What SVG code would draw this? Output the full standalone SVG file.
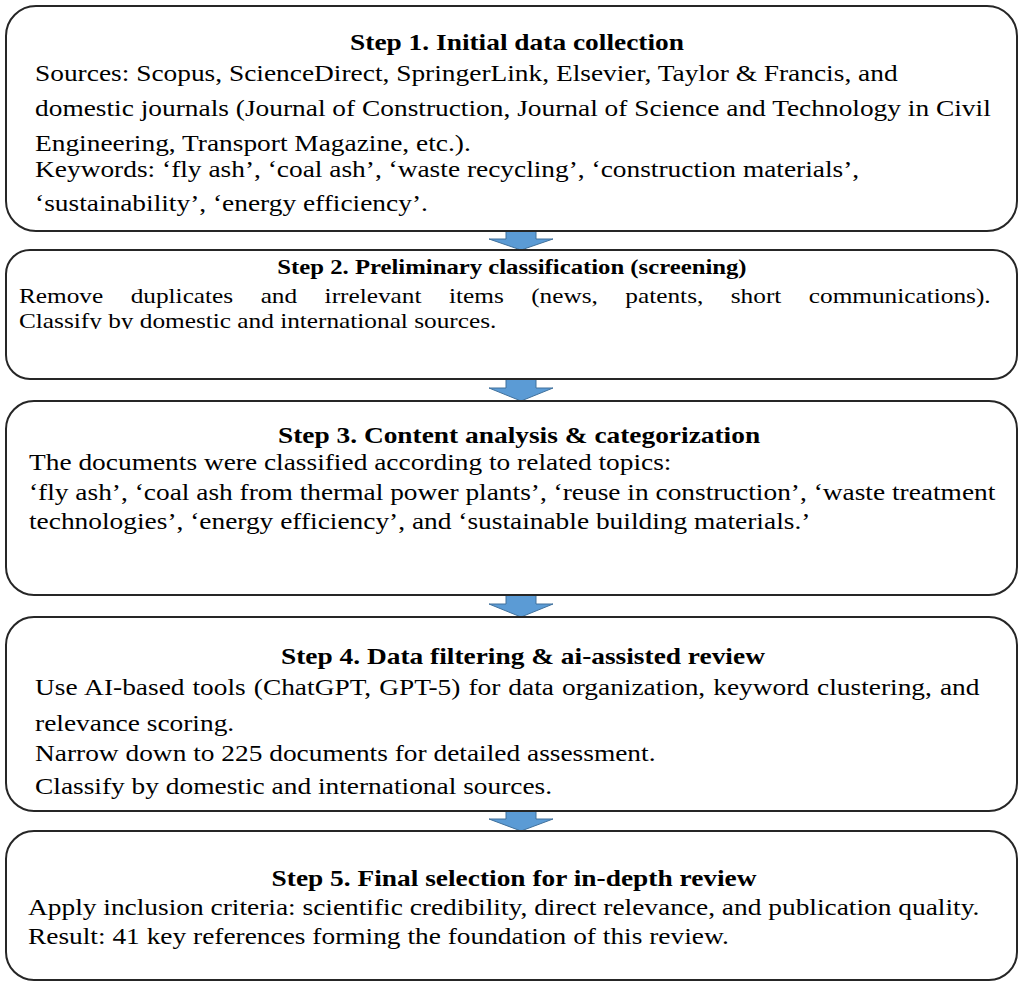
<svg xmlns="http://www.w3.org/2000/svg" width="1023" height="984" viewBox="0 0 1023 984">
<style>
.box{fill:#fff;stroke:#262626;stroke-width:2}
.h{font-family:"Liberation Serif","Times New Roman",serif;font-weight:bold;font-size:23px;fill:#000;text-anchor:middle}
.t{font-family:"Liberation Serif","Times New Roman",serif;font-size:23px;fill:#000}
.arr{fill:#5b9bd5;stroke:#41719c;stroke-width:1}
</style>
<defs>
<clipPath id="clip2"><rect x="6" y="250" width="1011" height="79"/></clipPath>
</defs>
<rect width="1023" height="984" fill="#fff"/>
<g id="connectors">
<path class="arr" d="M506,231 H536 V239 H553 L521,250 L489,239 H506 Z"/>
<path class="arr" d="M506,379 H536 V388 H553 L521,401 L489,388 H506 Z"/>
<path class="arr" d="M506,595 H536 V604 H553 L521,617 L489,604 H506 Z"/>
<path class="arr" d="M506,811 H536 V819 H553 L521,831 L489,819 H506 Z"/>
</g>
<g id="step1">
<rect class="box" x="6" y="6" width="1011" height="225" rx="30"/>
<g transform="scale(1.191 1)">
<text class="h" x="434.1" y="50">Step 1. Initial data collection</text>
<text class="t" x="29.4" y="81">Sources: Scopus, ScienceDirect, SpringerLink, Elsevier, Taylor &amp; Francis, and</text>
<text class="t" x="29.4" y="116">domestic journals (Journal of Construction, Journal of Science and Technology in Civil</text>
<text class="t" x="29.4" y="151">Engineering, Transport Magazine, etc.).</text>
<text class="t" x="29.4" y="177">Keywords: ‘fly ash’, ‘coal ash’, ‘waste recycling’, ‘construction materials’,</text>
<text class="t" x="29.4" y="211">‘sustainability’, ‘energy efficiency’.</text>
</g>
</g>
<g id="step2">
<rect class="box" x="6" y="250" width="1011" height="129" rx="24"/>
<g transform="scale(1.15 1)">
<text class="h" x="445.2" y="274" style="font-size:21.5px">Step 2. Preliminary classification (screening)</text>
<text class="t" x="16.5" y="303" style="font-size:22px" word-spacing="18.4">Remove duplicates and irrelevant items (news, patents, short communications).</text>
<text class="t" x="16.5" y="328" style="font-size:22px" clip-path="url(#clip2)">Classify by domestic and international sources.</text>
</g>
</g>
<g id="step3">
<rect class="box" x="6" y="401" width="1011" height="194" rx="28"/>
<g transform="scale(1.191 1)">
<text class="h" x="435.8" y="443">Step 3. Content analysis &amp; categorization</text>
<text class="t" x="24.35" y="470">The documents were classified according to related topics:</text>
<text class="t" x="24.35" y="500">‘fly ash’, ‘coal ash from thermal power plants’, ‘reuse in construction’, ‘waste treatment</text>
<text class="t" x="24.35" y="529">technologies’, ‘energy efficiency’, and ‘sustainable building materials.’</text>
</g>
</g>
<g id="step4">
<rect class="box" x="6" y="617" width="1011" height="194" rx="28"/>
<g transform="scale(1.191 1)">
<text class="h" x="439.1" y="664">Step 4. Data filtering &amp; ai-assisted review</text>
<text class="t" x="29.4" y="695" word-spacing="1">Use AI-based tools (ChatGPT, GPT-5) for data organization, keyword clustering, and</text>
<text class="t" x="29.4" y="731">relevance scoring.</text>
<text class="t" x="29.4" y="761">Narrow down to 225 documents for detailed assessment.</text>
<text class="t" x="29.4" y="794">Classify by domestic and international sources.</text>
</g>
</g>
<g id="step5">
<rect class="box" x="6" y="831" width="1011" height="149" rx="28"/>
<g transform="scale(1.191 1)">
<text class="h" x="431.6" y="886">Step 5. Final selection for in-depth review</text>
<text class="t" x="23.5" y="915">Apply inclusion criteria: scientific credibility, direct relevance, and publication quality.</text>
<text class="t" x="23.5" y="944">Result: 41 key references forming the foundation of this review.</text>
</g>
</g>
</svg>
